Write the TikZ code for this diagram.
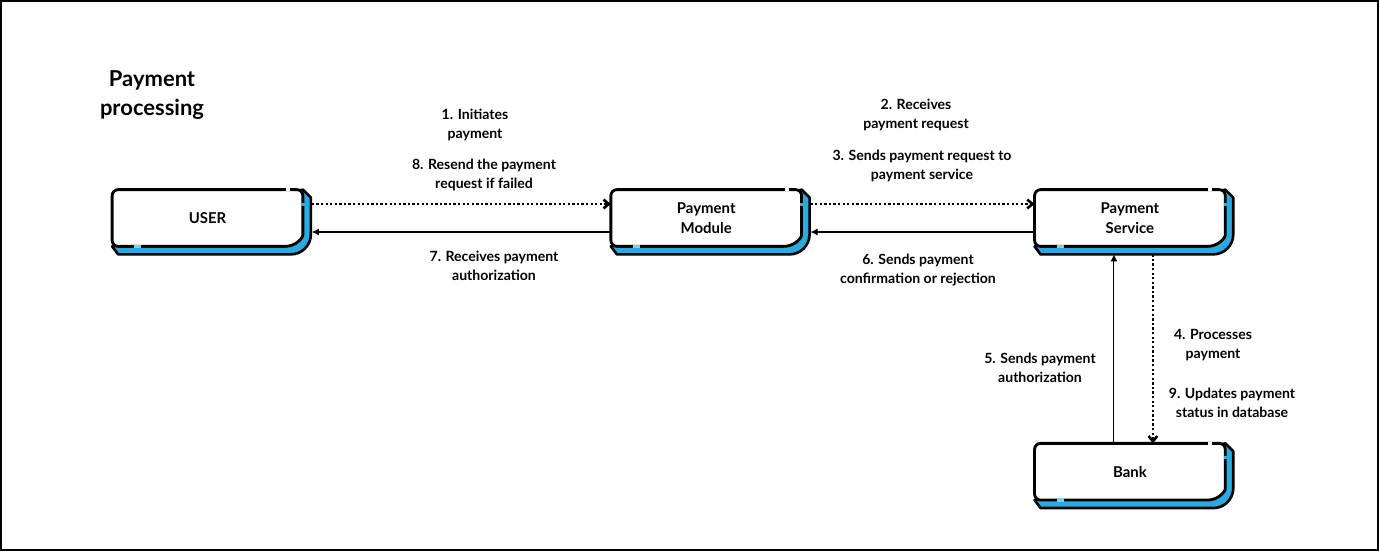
\documentclass[tikz,border=0pt]{standalone}
\usepackage{fontspec}
\setmainfont{Lato}
\usepackage{xcolor}
\usepackage{tikz}
\usetikzlibrary{
  positioning,
  calc,
  arrows.meta,
  backgrounds
}
\definecolor{payblue}{RGB}{41,171,226}
\tikzset{
  box/.style={minimum width=3.8cm,minimum height=1.12cm,inner sep=0pt,align=center,font=\bfseries\fontsize{8.5}{11}\selectfont},
  lab/.style={align=center,font=\bfseries\fontsize{8}{10.8}\selectfont},
  req/.style={-{Straight Barb[length=3pt,width=5pt]},line width=1.5pt,dash pattern=on 1.3pt off 1.3pt},
  res/.style={-{Latex[length=4pt,width=4pt]},line width=0.6pt}
}

\begin{document}
\begin{tikzpicture}
  \useasboundingbox (0,0) rectangle (27.58,11.02);
  \draw[line width=1.2pt] (0.02,0.02) rectangle (27.56,11.00); % 外枠
  % タイトル
  \node[align=center,font=\bfseries\fontsize{12.5}{16}\selectfont] (title) at (3.04,9.12) {Payment\\processing};
  % ボックス
  \node[box] (user) at (4.15,6.66) {USER};
  \node[box,right=6.16cm of user] (module) {Payment\\Module};
  \node[box,right=4.66cm of module] (service) {Payment\\Service};
  \node[box,below=3.94cm of service] (bank) {Bank};
  \begin{scope}[on background layer]
    \foreach \n in {user,module,service,bank}{
      \draw[fill=payblue,line width=1.5pt,line join=round] (\n.north east) -- ++(0.16,-0.16)
        -- ($(\n.south east)+(0.16,0.24)$) arc[start angle=0,end angle=-90,radius=0.4cm]
        -- ($(\n.south west)+(0.12,-0.16)$) -- (\n.south west) -- cycle; % 影
      \draw[fill=white,line width=1.6pt] ($(\n.south east)+(0,0.35)$) arc[start angle=0,end angle=-90,radius=0.35cm]
        [rounded corners=0.12cm] -- (\n.south west) -- (\n.north west) -- (\n.north east) -- cycle; % 枠
      \draw[white,line width=2pt] ($(\n.north east)+(-0.34,0)$) -- ++(0.08,0); % すき間
      \draw[payblue,line width=2pt] ($(\n.north east)+(0,-0.26)$) -- ++(0,-0.06);
      \draw[payblue!60,line width=2pt] ($(\n.south west)+(0.44,0)$) -- ++(0.14,0);
    }
  \end{scope}
  % 矢印
  \draw[req] ($(user.east)+(0.18,0.28)$) -- ($(module.west)+(0,0.28)$);
  \draw[res] ($(module.west)+(0,-0.28)$) -- ($(user.east)+(0.18,-0.28)$);
  \draw[req] ($(module.east)+(0.18,0.28)$) -- ($(service.west)+(0,0.28)$);
  \draw[res] ($(service.west)+(0,-0.28)$) -- ($(module.east)+(0.18,-0.28)$);
  \draw[res] ($(bank.north)+(-0.32,0)$) -- ($(service.south)+(-0.32,-0.16)$);
  \draw[req] ($(service.south)+(0.46,-0.16)$) -- ($(bank.north)+(0.46,0)$);
  % ラベル
  \node[lab] (lab1) at (9.5,8.52) {1. Initiates\\payment};
  \node[lab] (lab8) at (9.68,7.53) {8. Resend the payment\\request if failed};
  \node[lab] (lab7) at (9.88,5.71) {7. Receives payment\\authorization};
  \node[lab] (lab2) at (18.32,8.73) {2. Receives\\payment request};
  \node[lab] (lab3) at (18.44,7.71) {3. Sends payment request to\\payment service};
  \node[lab] (lab6) at (18.36,5.62) {6. Sends payment\\confirmation or rejection};
  \node[lab] (lab5) at (20.8,3.67) {5. Sends payment\\authorization};
  \node[lab] (lab4) at (24.26,4.11) {4. Processes\\payment};
  \node[lab] (lab9) at (24.64,2.97) {9. Updates payment\\status in database};
\end{tikzpicture}
\end{document}
